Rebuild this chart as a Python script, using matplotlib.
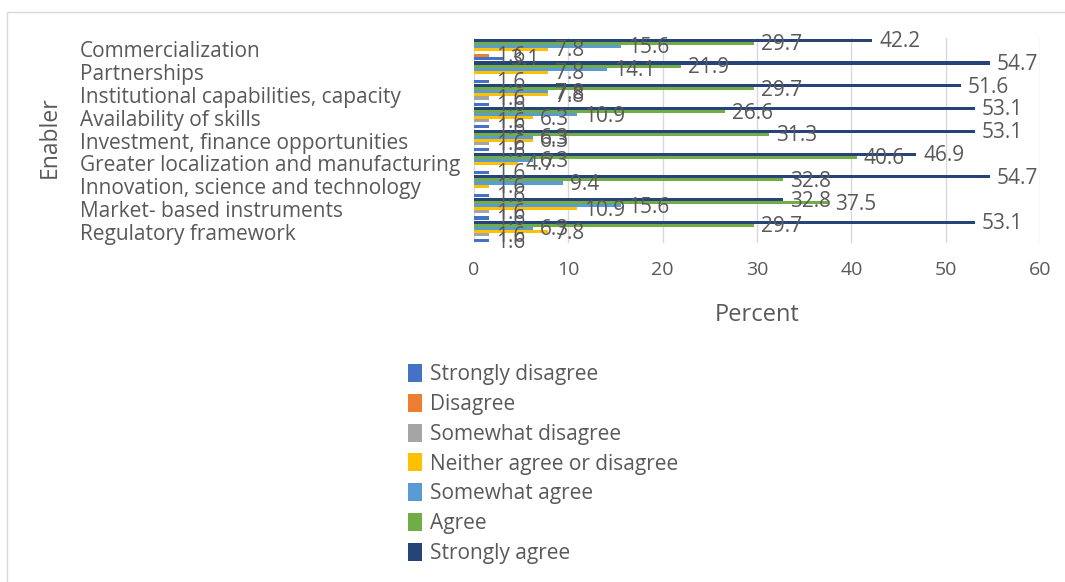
import numpy as np
import matplotlib.pyplot as plt
from matplotlib.patches import Rectangle

plt.rcParams['font.family'] = ['Open Sans', 'DejaVu Sans']

# Categorias (de cima para baixo)
enablers = ["Commercialization", "Partnerships", "Institutional capabilities, capacity",
            "Availability of skills", "Investment, finance opportunities",
            "Greater localization and manufacturing", "Innovation, science and technology",
            "Market- based instruments", "Regulatory framework"]

series = ["Strongly disagree", "Disagree", "Somewhat disagree", "Neither agree or disagree",
          "Somewhat agree", "Agree", "Strongly agree"]
colors = ["#4472C4", "#ED7D31", "#A5A5A5", "#FFC000", "#5B9BD5", "#70AD47", "#264478"]

nan = np.nan
strongly_disagree = [3.1, 1.6, 1.6, 1.6, 1.6, 1.6, 1.6, 1.6, 1.6]
disagree = [1.6, nan, nan, nan, nan, nan, nan, nan, nan]
somewhat_disagree = [nan, nan, 1.6, 1.6, 1.6, nan, nan, 1.6, 1.6]
neither = [7.8, 7.8, 7.8, 6.3, 6.3, 4.7, 1.6, 10.9, 7.8]
somewhat_agree = [15.6, 14.1, 7.8, 10.9, 6.3, 6.3, 9.4, 15.6, 6.3]
agree = [29.7, 21.9, 29.7, 26.6, 31.3, 40.6, 32.8, 37.5, 29.7]
strongly_agree = [42.2, 54.7, 51.6, 53.1, 53.1, 46.9, 54.7, 32.8, 53.1]

valores = [strongly_disagree, disagree, somewhat_disagree, neither,
           somewhat_agree, agree, strongly_agree]

W, H = 1065, 582
fig = plt.figure(figsize=(W / 100, H / 100), dpi=100)
ax = fig.add_axes([474 / W, 1 - 243 / H, (1040 - 474) / W, (243 - 38) / H])

# Moldura da área do gráfico
fig.patches.append(Rectangle((7 / W, -0.1), 1.2, 1 - 12 / H + 0.1, transform=fig.transFigure,
                             fill=False, edgecolor="#D9D9D9", linewidth=1))

txt = "#595959"
fs = 15
y = np.arange(len(enablers))
h = 0.134
for k, (nome, vals, cor) in enumerate(zip(series, valores, colors)):
    pos = y + (3 - k) * h
    v = np.array(vals, dtype=float)
    ax.barh(pos, np.nan_to_num(v), height=h, color=cor, label=nome)
    for p, val in zip(pos, v):
        if not np.isnan(val):
            ax.annotate(f"{val:.1f}", (val, p), xytext=(5, -1), textcoords="offset points",
                        va="center", ha="left", fontsize=fs, color=txt)

ax.set_xlim(0, 60)
ax.set_ylim(8.5, -0.5)
ax.set_xticks(np.arange(0, 61, 10))
ax.set_yticks(y)
ax.set_yticklabels(enablers, ha="left")
ax.tick_params(axis="y", length=0, pad=394 * 0.72, labelsize=fs, labelcolor=txt)
ax.tick_params(axis="x", length=0, pad=13, labelsize=14, labelcolor=txt)
ax.grid(axis="x", color="#D9D9D9", linewidth=1)
ax.set_axisbelow(True)
for s in ax.spines.values():
    s.set_visible(False)

ax.set_xlabel("Percent", fontsize=17, color=txt, labelpad=17)
fig.text(50 / W, 1 - 137 / H, "Enabler", rotation=90, ha="center", va="center",
         fontsize=16.5, color=txt)

fig.legend(loc="upper left", bbox_to_anchor=(389 / W, 1 - 345 / H), frameon=False,
           fontsize=fs, labelcolor=txt, handlelength=0.7, handleheight=0.95,
           handletextpad=0.35, labelspacing=0.42)

fig.savefig("out.png", dpi=100)
